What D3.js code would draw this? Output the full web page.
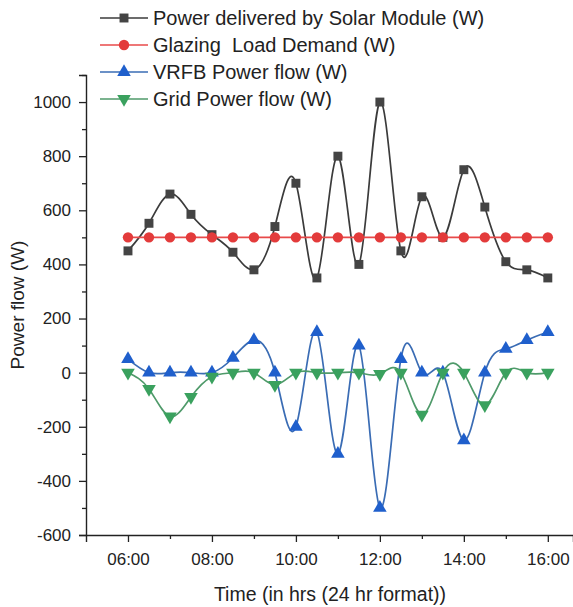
<!DOCTYPE html>
<html>
<head>
<meta charset="utf-8">
<script src="https://cdn.jsdelivr.net/npm/d3@7"></script>
<style>
  body { margin: 0; background: #fff; }
  svg { display: block; font-family: "Liberation Sans", Arial, sans-serif; }
</style>
</head>
<body>
<svg id="chart" width="573" height="607"></svg>
<script>
// time in hours, every 30 min from 06:00 to 16:00
const hours = [6, 6.5, 7, 7.5, 8, 8.5, 9, 9.5, 10, 10.5, 11, 11.5, 12, 12.5, 13, 13.5, 14, 14.5, 15, 15.5, 16];
const solar = [450, 552, 660, 585, 510, 445, 380, 540, 700, 350, 800, 400, 1000, 450, 650, 500, 750, 612, 410, 380, 350];
const load = [500, 500, 500, 500, 500, 500, 500, 500, 500, 500, 500, 500, 500, 500, 500, 500, 500, 500, 500, 500, 500];
const vrfb = [50, 0, 0, 0, 0, 55, 120, 0, -200, 150, -300, 100, -500, 50, 0, 0, -250, 0, 88, 120, 150];
const grid = [0, -60, -162, -90, -15, 0, 0, -45, 0, 0, 0, 0, -5, 0, -155, 0, 0, -120, 0, 0, 0];
const xTicks = [6, 8, 10, 12, 14, 16];
const yTicks = [-600, -400, -200, 0, 200, 400, 600, 800, 1000];

const series = [
  { name: "Power delivered by Solar Module (W)", values: solar, line: "#3b3b3b", fill: "#444444", marker: "square" },
  { name: "Glazing  Load Demand (W)", values: load, line: "#e84a4a", fill: "#e33b3b", marker: "circle" },
  { name: "VRFB Power flow (W)", values: vrfb, line: "#3a6cb4", fill: "#1f5fcc", marker: "up" },
  { name: "Grid Power flow (W)", values: grid, line: "#4f9a6a", fill: "#3aa15e", marker: "down" }
];

const svg = d3.select("#chart");
const x = d3.scaleLinear().domain([5, 16.6]).range([86, 573]);
const y = d3.scaleLinear().domain([-600, 1100]).range([535, 75]);

// axes
svg.append("g").attr("transform", `translate(0,${y(-600)})`)
  .call(d3.axisBottom(x).tickValues(xTicks).tickSize(7).tickPadding(11)
    .tickFormat(d => (d < 10 ? "0" : "") + d + ":00"));
svg.append("g").attr("transform", `translate(0,${y(-600)})`)
  .call(d3.axisBottom(x).tickValues([7, 9, 11, 13, 15]).tickSize(4).tickFormat(""))
  .select(".domain").remove();

svg.append("g").attr("transform", `translate(${x(5)},0)`)
  .call(d3.axisLeft(y).tickValues(yTicks).tickSize(7).tickPadding(8).tickFormat(d => String(d)));
svg.append("g").attr("transform", `translate(${x(5)},0)`)
  .call(d3.axisLeft(y).tickValues(d3.range(-500, 1101, 200)).tickSize(4).tickFormat(""))
  .select(".domain").remove();

svg.selectAll(".domain").attr("stroke", "#222").attr("stroke-width", 1.4);
svg.selectAll(".tick line").attr("stroke", "#222").attr("stroke-width", 1.3);
svg.selectAll(".tick text").attr("font-size", 17).attr("fill", "#222")
  .attr("font-family", "Liberation Sans, Arial, sans-serif");

// axis titles
svg.append("text").attr("x", 330).attr("y", 601).attr("text-anchor", "middle")
  .attr("font-size", 19.5).attr("fill", "#222").text("Time (in hrs (24 hr format))");
svg.append("text").attr("transform", `translate(24,${y(250)}) rotate(-90)`)
  .attr("text-anchor", "middle").attr("font-size", 19).attr("fill", "#222").text("Power flow (W)");

// markers
const sym = {
  square: d3.symbol().type(d3.symbolSquare).size(80),
  circle: d3.symbol().type(d3.symbolCircle).size(85),
  up: d3.symbol().type(d3.symbolTriangle).size(80),
  down: d3.symbol().type(d3.symbolTriangle).size(80)
};
function drawMarker(g, s, cx, cy) {
  g.append("path").attr("d", sym[s.marker]())
    .attr("transform", `translate(${cx},${cy})` + (s.marker === "down" ? " rotate(180)" : ""))
    .attr("fill", s.fill);
}

const lineGen = d3.line().curve(d3.curveNatural);
const plot = svg.append("g");
series.forEach(s => {
  const pts = hours.map((h, i) => [x(h), y(s.values[i])]);
  plot.append("path").attr("d", lineGen(pts)).attr("fill", "none")
    .attr("stroke", s.line).attr("stroke-width", 1.7);
  const mg = plot.append("g");
  pts.forEach(p => drawMarker(mg, s, p[0], p[1]));
});

// legend
const legend = svg.append("g");
series.forEach((s, i) => {
  const ly = 18 + i * 27;
  legend.append("line").attr("x1", 100).attr("x2", 148).attr("y1", ly).attr("y2", ly)
    .attr("stroke", s.line).attr("stroke-width", 1.7);
  drawMarker(legend, s, 124, ly);
  legend.append("text").attr("x", 153).attr("y", ly + 7).attr("font-size", 20)
    .attr("fill", "#222").attr("xml:space", "preserve").style("white-space", "pre").text(s.name);
});
</script>
</body>
</html>
